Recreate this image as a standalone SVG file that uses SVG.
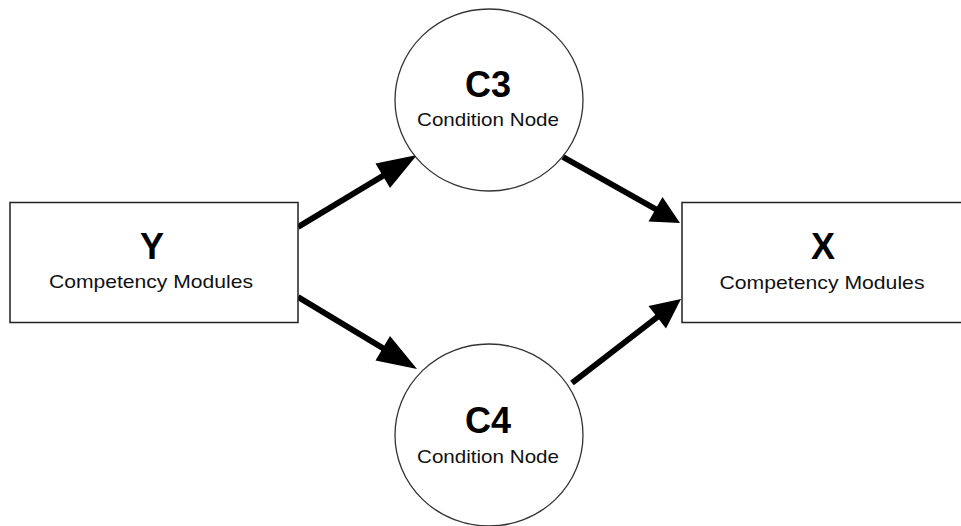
<svg xmlns="http://www.w3.org/2000/svg" width="961" height="526" viewBox="0 0 961 526">
  <style>
    .box { fill: #fff; stroke: #222; stroke-width: 1.5; }
    .cond { fill: #fff; stroke: #333; stroke-width: 1.3; }
    .title { font-family: "Liberation Sans", Arial, sans-serif; font-weight: bold; font-size: 36px; fill: #000; text-anchor: middle; }
    .sub { font-family: "Liberation Sans", Arial, sans-serif; font-size: 19px; fill: #111; text-anchor: middle; }
    .shaft { stroke: #000; stroke-width: 6; fill: none; }
    .head { fill: #000; stroke: none; }
  </style>
  <rect width="961" height="526" fill="#fff"/>

  <g id="connectors">
    <!-- Y to C3 -->
    <g id="edge-y-c3">
      <line class="shaft" x1="298" y1="227" x2="386" y2="174"/>
      <polygon class="head" points="417,155 390,188 375.5,163.5"/>
    </g>
    <!-- Y to C4 -->
    <g id="edge-y-c4">
      <line class="shaft" x1="298" y1="297" x2="386" y2="350"/>
      <polygon class="head" points="417,369 375.5,360.5 390,336"/>
    </g>
    <!-- C3 to X -->
    <g id="edge-c3-x">
      <line class="shaft" x1="563" y1="157" x2="659" y2="211"/>
      <polygon class="head" points="680,223 648.5,221.5 662.5,197"/>
    </g>
    <!-- C4 to X -->
    <g id="edge-c4-x">
      <line class="shaft" x1="572" y1="383" x2="660" y2="315"/>
      <polygon class="head" points="681,299 666,328.5 648.5,306"/>
    </g>
  </g>

  <g id="node-y">
    <rect class="box" x="10" y="202.5" width="288" height="120"/>
    <text class="title" x="152" y="259">Y</text>
    <text class="sub" x="151" y="288" textLength="204" lengthAdjust="spacingAndGlyphs">Competency Modules</text>
  </g>

  <g id="node-c3">
    <ellipse class="cond" cx="489" cy="100" rx="94" ry="91"/>
    <text class="title" x="488" y="97">C3</text>
    <text class="sub" x="488" y="126" textLength="142" lengthAdjust="spacingAndGlyphs">Condition Node</text>
  </g>

  <g id="node-c4">
    <ellipse class="cond" cx="489" cy="435" rx="94" ry="91"/>
    <text class="title" x="488" y="433">C4</text>
    <text class="sub" x="488" y="463" textLength="142" lengthAdjust="spacingAndGlyphs">Condition Node</text>
  </g>

  <g id="node-x">
    <rect class="box" x="682" y="202.5" width="282" height="120"/>
    <text class="title" x="823" y="259">X</text>
    <text class="sub" x="822" y="289" textLength="205" lengthAdjust="spacingAndGlyphs">Competency Modules</text>
  </g>
</svg>
